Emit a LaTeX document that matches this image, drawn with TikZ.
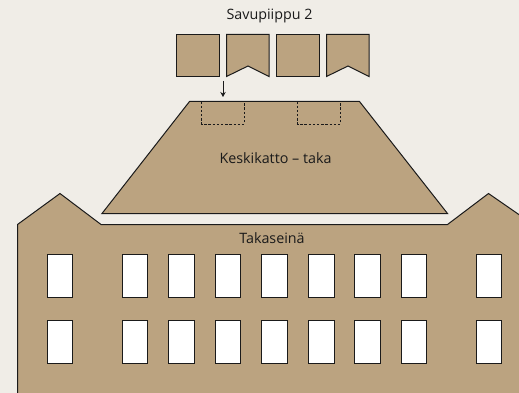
\documentclass[tikz,border=0pt]{standalone}
\usepackage{fontspec}
\setmainfont{Open Sans}
\usetikzlibrary{arrows.meta}
\definecolor{bgc}{HTML}{F0EDE7}
\definecolor{tan}{HTML}{BBA380}
\definecolor{ink}{HTML}{1A1A1A}
\tikzset{
  part/.style={fill=tan,draw=ink,line width=1pt,line join=miter},
  win/.style={fill=white,draw=ink,line width=1pt},
  fold/.style={draw=ink,line width=0.7pt,dash pattern=on 2.4pt off 1.8pt},
  lbl/.style={font=\fontsize{14.3}{16}\selectfont,text=ink,inner sep=0pt},
  pointer/.style={draw=ink,line width=1pt,-{Stealth[length=5pt,width=5.5pt]}}
}
\begin{document}
\begin{tikzpicture}[x=1pt,y=-1pt]
\useasboundingbox (0,0) rectangle (519,393);
\fill[bgc] (0,0) rectangle (519,393);
% back wall
\draw[part] (17.5,395) -- (17.5,224.5) -- (60,193.5) -- (101,224.5) -- (447.5,224.5) -- (488.5,193.5) -- (521,216) -- (521,395) -- cycle;
\foreach \wx/\ww in {47.5/25,122.5/25,168.5/25.5,215/25.5,261.5/25.5,308.5/25.5,354.5/25.5,401/25,476.5/25}{
  \draw[win] (\wx,254.5) rectangle ++(\ww,42.5);
  \draw[win] (\wx,320.5) rectangle ++(\ww,42.5);
}
% roof
\draw[part] (189.5,101.5) -- (359.5,101.5) -- (447.5,213.5) -- (102,213.5) -- cycle;
\draw[fold] (201.5,101.5) -- (201.5,124) -- (244.5,124) -- (244.5,101.5);
\draw[fold] (297.5,101.5) -- (297.5,124) -- (340.5,124) -- (340.5,101.5);
% chimney pieces
\draw[part] (176.5,34.5) rectangle (219,76.5);
\draw[part] (226.5,34.5) -- (269,34.5) -- (269,76.5) -- (248,66) -- (226.5,76.5) -- cycle;
\draw[part] (276.5,34.5) rectangle (319,76.5);
\draw[part] (326.5,34.5) -- (369,34.5) -- (369,76.5) -- (348,66) -- (326.5,76.5) -- cycle;
% labels
\node[lbl] (savu) at (269.5,15.5) {Savupiippu 2};
\node[lbl] (roofl) at (275.5,158) {Keskikatto – taka};
\node[lbl] (wall) at (272,238) {Takaseinä};
% pointer
\coordinate (ptop) at (223,81);
\coordinate (pend) at (223,97);
\draw[pointer] (ptop) -- (pend);
\end{tikzpicture}
\end{document}
